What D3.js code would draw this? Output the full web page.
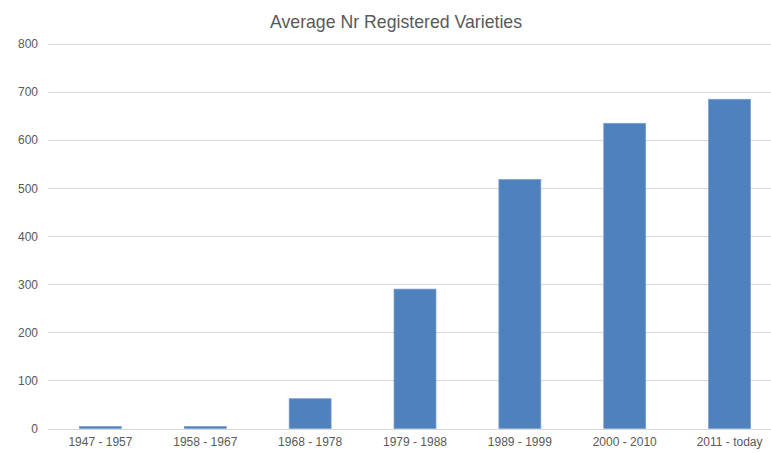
<!DOCTYPE html>
<html>
<head>
<meta charset="utf-8">
<script src="https://cdn.jsdelivr.net/npm/d3@7"></script>
<style>
  body { margin: 0; background: #fff; }
  svg { display: block; }
  svg text { font-family: "Liberation Sans", Arial, sans-serif; }
  .grid line { stroke: #d9d9d9; stroke-width: 1px; }
  .tick text { fill: #595959; font-size: 12px; }
</style>
</head>
<body>
<svg id="chart" width="771" height="453"></svg>
<script>
const title = "Average Nr Registered Varieties";
const periods = ["1947 - 1957", "1958 - 1967", "1968 - 1978", "1979 - 1988", "1989 - 1999", "2000 - 2010", "2011 - today"];
const avgVarieties = [4, 4, 62, 290, 518, 635, 685];
const yTicks = [0, 100, 200, 300, 400, 500, 600, 700, 800];

const svg = d3.select("#chart");
const plotLeft = 48, plotRight = 782, plotTop = 44, plotBottom = 428.5;

const x = d3.scaleBand().domain(periods).range([plotLeft, plotRight]).paddingInner(0.6).paddingOuter(0.3);
const y = d3.scaleLinear().domain([0, 800]).range([plotBottom, plotTop]);

// gridlines
svg.append("g")
  .attr("class", "grid")
  .selectAll("line")
  .data(yTicks)
  .join("line")
  .attr("x1", plotLeft)
  .attr("x2", plotRight)
  .attr("y1", d => Math.round(y(d)) + 0.5)
  .attr("y2", d => Math.round(y(d)) + 0.5);

// bars
svg.append("g")
  .selectAll("rect")
  .data(avgVarieties)
  .join("rect")
  .attr("x", (d, i) => x(periods[i]))
  .attr("width", x.bandwidth())
  .attr("y", d => y(d))
  .attr("height", d => plotBottom - y(d))
  .attr("fill", "#4f81bd")
  .attr("stroke", "#7a9fd0")
  .attr("stroke-width", 0.75);

// y axis
const yAxis = svg.append("g")
  .attr("transform", `translate(${plotLeft - 10},0)`)
  .call(d3.axisLeft(y).tickValues(yTicks).tickSize(0).tickPadding(0));
yAxis.select(".domain").remove();

// x axis
const xAxis = svg.append("g")
  .attr("transform", `translate(0,${plotBottom})`)
  .call(d3.axisBottom(x).tickSize(0).tickPadding(9));
xAxis.select(".domain").remove();

svg.append("text")
  .attr("x", 396)
  .attr("y", 28)
  .attr("text-anchor", "middle")
  .attr("fill", "#595959")
  .attr("font-size", "17.7px")
  .text(title);
</script>
</body>
</html>
